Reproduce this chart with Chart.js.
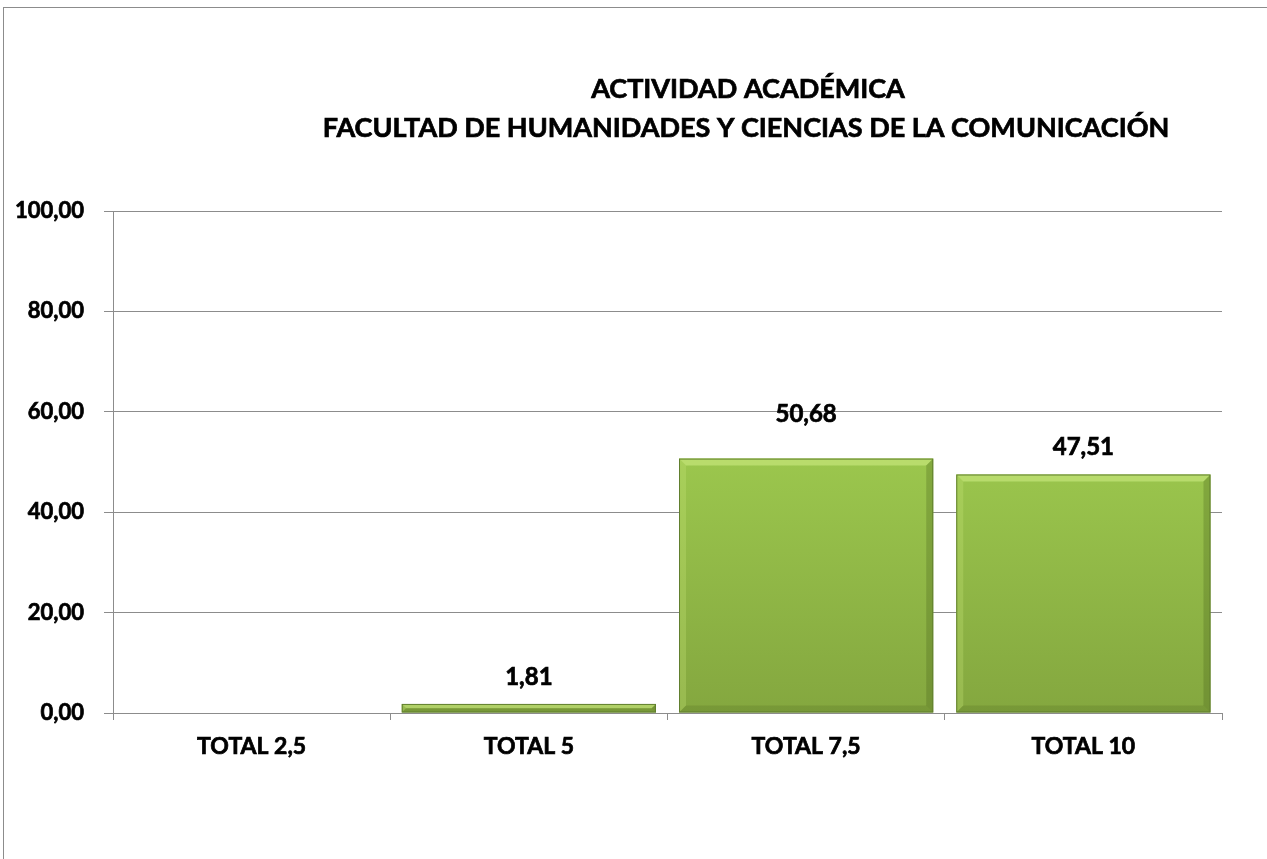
<!DOCTYPE html>
<html>
<head>
<meta charset="utf-8">
<title>Actividad académica</title>
<script src="https://cdn.jsdelivr.net/npm/chart.js@4.4.1/dist/chart.umd.min.js"></script>
<style>
  html, body { margin: 0; padding: 0; background: #fff; overflow: hidden; }
  #wrap { position: relative; width: 1267px; height: 859px; }
  #frame { position: absolute; left: 3px; top: 7px; width: 1300px; height: 900px; border: 1px solid #8c8c8c; box-sizing: border-box; }
  canvas { position: absolute; left: 0; top: 0; }
</style>
</head>
<body>
<div id="wrap">
  <div id="frame"></div>
  <canvas id="chart" width="1267" height="859"></canvas>
</div>
<script>
// Data
const categories = ['TOTAL 2,5', 'TOTAL 5', 'TOTAL 7,5', 'TOTAL 10'];
const values = [0, 1.81, 50.68, 47.51];
const yTicks = [0, 20, 40, 60, 80, 100];
const titleLines = ['ACTIVIDAD ACADÉMICA', 'FACULTAD DE HUMANIDADES Y CIENCIAS DE LA COMUNICACIÓN'];

const FONT = 'Lato, "Liberation Sans", sans-serif';
const fmt = v => v.toFixed(2).replace('.', ',');

// green vertical gradient like the Excel bevel bars
function barFill(ctx) {
    const chart = ctx.chart;
    const area = chart.chartArea;
    if (!area) return '#9cc54e';
    const el = ctx.element;
    const top = el && isFinite(el.y) ? el.y : area.top;
    const bottom = el && isFinite(el.base) ? el.base : area.bottom;
    const g = chart.ctx.createLinearGradient(0, top, 0, Math.max(bottom, top + 1));
    g.addColorStop(0, '#a9d358');
    g.addColorStop(0.5, '#9bc64d');
    g.addColorStop(1, '#84a73f');
    return g;
}

function boldText(c, txt, x, y) {
    c.strokeText(txt, x, y);
    c.fillText(txt, x, y);
}

// draws the two title lines
const titlePlugin = {
    id: 'excelTitle',
    afterDraw(chart) {
        const c = chart.ctx;
        c.save();
        c.fillStyle = '#000';
        c.strokeStyle = '#000';
        c.lineWidth = 0.7;
        c.font = 'bold 27px ' + FONT;
        c.textAlign = 'center';
        c.textBaseline = 'middle';
        boldText(c, titleLines[0], 748, 89);
        boldText(c, titleLines[1], 746, 128);
        c.restore();
    }
};

// bevel edges + value labels
const bevelPlugin = {
    id: 'bevel',
    afterDatasetsDraw(chart) {
        const c = chart.ctx;
        const meta = chart.getDatasetMeta(0);
        c.save();
        meta.data.forEach((bar, i) => {
            const v = values[i];
            if (!v) return;
            const l = bar.x - bar.width / 2, r = bar.x + bar.width / 2;
            const t = bar.y, b = bar.base;
            const h = b - t;
            const e = Math.min(7, h / 2);
            // top light
            c.fillStyle = 'rgba(205,235,130,0.6)';
            c.beginPath();
            c.moveTo(l, t); c.lineTo(r, t); c.lineTo(r - e, t + e); c.lineTo(l + e, t + e); c.closePath(); c.fill();
            // left light
            c.fillStyle = 'rgba(200,230,120,0.3)';
            c.beginPath();
            c.moveTo(l, t); c.lineTo(l + e, t + e); c.lineTo(l + e, b - e); c.lineTo(l, b); c.closePath(); c.fill();
            // right dark
            c.fillStyle = 'rgba(70,95,25,0.28)';
            c.beginPath();
            c.moveTo(r, t); c.lineTo(r, b); c.lineTo(r - e, b - e); c.lineTo(r - e, t + e); c.closePath(); c.fill();
            // bottom dark
            c.fillStyle = 'rgba(70,95,25,0.2)';
            c.beginPath();
            c.moveTo(l, b); c.lineTo(r, b); c.lineTo(r - e, b - e); c.lineTo(l + e, b - e); c.closePath(); c.fill();
            // outline
            c.strokeStyle = '#617f2e';
            c.lineWidth = 1;
            c.strokeRect(l + 0.5, t + 0.5, bar.width - 1, h - 1);
        });
        // value labels
        c.fillStyle = '#000';
        c.strokeStyle = '#000';
        c.lineWidth = 0.7;
        c.font = 'bold 24px ' + FONT;
        c.textAlign = 'center';
        c.textBaseline = 'middle';
        meta.data.forEach((bar, i) => {
            const v = values[i];
            if (!v) return;
            const lift = i === 2 ? 44 : 27;
            boldText(c, fmt(v), bar.x, bar.y - lift);
        });
        c.restore();
    }
};

document.addEventListener('DOMContentLoaded', () => {
    const ctx = document.getElementById('chart').getContext('2d');
    new Chart(ctx, {
        type: 'bar',
        data: {
            labels: categories,
            datasets: [{
                data: values,
                backgroundColor: barFill,
                borderWidth: 0,
                barPercentage: 0.917,
                categoryPercentage: 1.0
            }]
        },
        options: {
            responsive: false,
            animation: false,
            layout: { padding: { left: 0, top: 211, right: 45, bottom: 0 } },
            plugins: {
                legend: { display: false },
                title: { display: false },
                tooltip: { enabled: false }
            },
            scales: {
                x: {
                    afterFit(scale) { scale.height = 146; },
                    grid: {
                        offset: true,
                        drawOnChartArea: false,
                        drawTicks: true,
                        tickLength: 7,
                        color: '#8c8c8c'
                    },
                    border: { display: true, color: '#8c8c8c', width: 1 },
                    ticks: {
                        color: '#000',
                        padding: 13,
                        textStrokeColor: '#000',
                        textStrokeWidth: 0.7,
                        font: { family: FONT, size: 23, weight: 'bold' }
                    }
                },
                y: {
                    min: 0,
                    max: 100,
                    afterFit(scale) { scale.width = 113; },
                    afterBuildTicks(scale) { scale.ticks = yTicks.map(v => ({ value: v })); },
                    grid: {
                        color: '#8c8c8c',
                        drawTicks: true,
                        tickLength: 9
                    },
                    border: { display: true, color: '#8c8c8c', width: 1 },
                    ticks: {
                        color: '#000',
                        padding: 20,
                        textStrokeColor: '#000',
                        textStrokeWidth: 0.7,
                        font: { family: FONT, size: 22, weight: 'bold' },
                        callback: v => fmt(v)
                    }
                }
            }
        },
        plugins: [titlePlugin, bevelPlugin]
    });
});
</script>
</body>
</html>
